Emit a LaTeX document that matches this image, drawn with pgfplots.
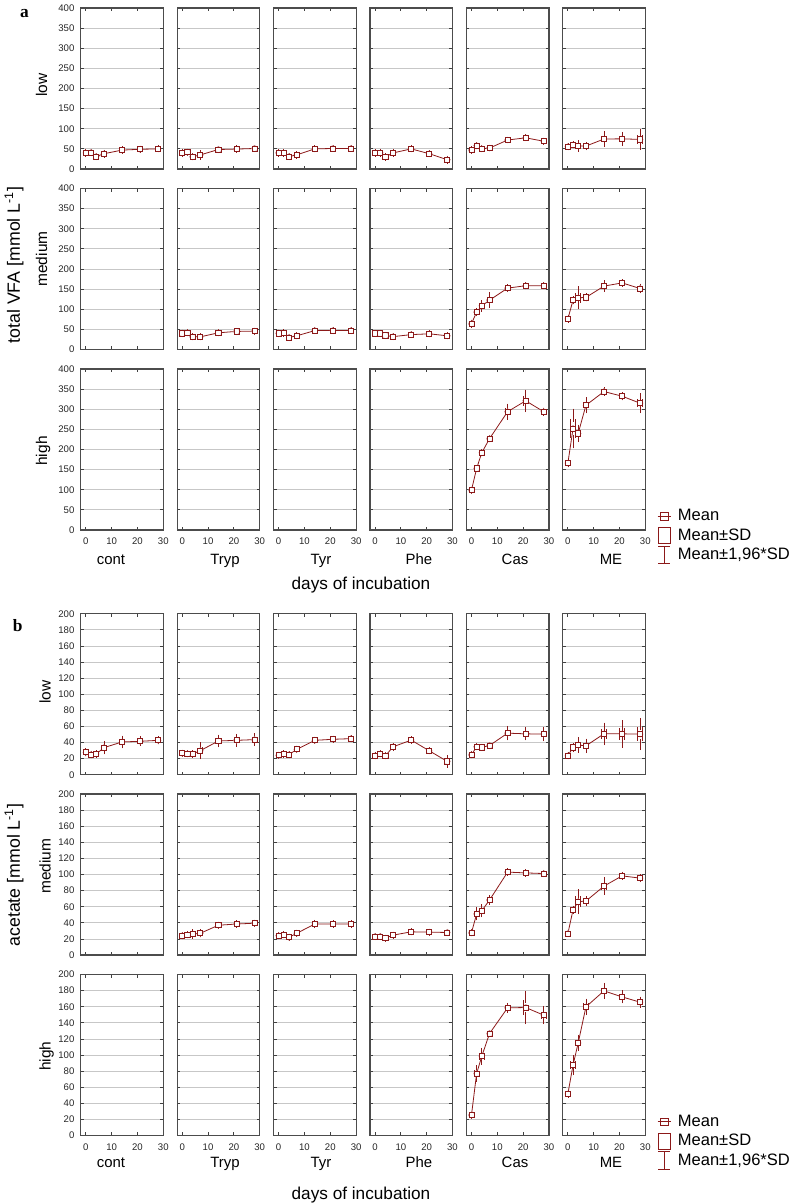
\documentclass[border=0pt]{standalone}
\usepackage{pgfplots}
\usepackage{pgfplotstable}
\pgfplotsset{compat=1.18}
\usepackage{fontspec}
\setmainfont{Liberation Sans}
\newfontfamily\serifbf{Liberation Serif}
\definecolor{dred}{RGB}{140,25,25}

% ---------------- data: day, mean, SD ----------------
\pgfplotstableread{
d m s
0 40 3
2 41 2
4 31 2
7 38 2.5
14 47 2
21 49 2
28 50 1.5
}\aLowCont
\pgfplotstableread{
d m s
0 40 3
2 41.5 2
4 30.5 2
7 35 4
14 48.5 2
21 49.5 2.5
28 51 2
}\aLowTryp
\pgfplotstableread{
d m s
0 40 2
2 40 2
4 31 2
7 35 2
14 50 1.5
21 51 1.5
28 51 1.5
}\aLowTyr
\pgfplotstableread{
d m s
0 40 2.5
2 40 2
4 30 2.5
7 40 2
14 50 1.5
21 38 1.5
28 23 2.5
}\aLowPhe
\pgfplotstableread{
d m s
0 47 2
2 58 2
4 50.5 2
7 52 1.5
14 72 1.5
21 77.5 1.5
28 69 2
}\aLowCas
\pgfplotstableread{
d m s
0 55.5 2
2 60 2
4 57 5
7 57 3
14 74.5 7.5
21 75 6.5
28 73.5 11
}\aLowME
\pgfplotstableread{
d m s
0 40 2.5
2 41.5 2
4 31.5 2
7 31.5 2
14 41.5 2
21 45 2
28 45.5 2
}\aMedTryp
\pgfplotstableread{
d m s
0 40 2.5
2 41 2
4 30 2
7 34 2
14 47 2
21 47 2
28 47 2
}\aMedTyr
\pgfplotstableread{
d m s
0 40 2
2 40 2
4 35 2
7 32 2
14 37 2
21 39 2
28 34 2
}\aMedPhe
\pgfplotstableread{
d m s
0 64 3
2 93 3
4 108.5 5
7 122.5 8
14 152.5 2.5
21 158.5 2
28 158.5 2
}\aMedCas
\pgfplotstableread{
d m s
0 76 2.5
2 122.5 3
4 128.5 12.5
7 129.5 3
14 157.5 5
21 165.5 2
28 151.5 4
}\aMedME
\pgfplotstableread{
d m s
0 99 2
2 153 2
4 192 2
7 227 2
14 294 8
21 321 12
28 294 3
}\aHighCas
\pgfplotstableread{
d m s
0 166 3
2 252 23
4 240 9
7 310 8
14 344 3
21 332.5 3
28 315 10.5
}\aHighME
\pgfplotstableread{
d m s
0 27.8 1.5
2 25 1.2
4 25.7 1.2
7 33.6 3.2
14 40.7 2.9
21 41.5 2
28 42.7 1.5
}\bLowCont
\pgfplotstableread{
d m s
0 26.6 1
2 26.1 1
4 25.7 1
7 29.9 4.2
14 41.9 3
21 42.7 3
28 43.6 3
}\bLowTryp
\pgfplotstableread{
d m s
0 24.1 1
2 25.7 1
4 24.9 1
7 31.5 1.2
14 42.7 1
21 44 1
28 44.8 1
}\bLowTyr
\pgfplotstableread{
d m s
0 23.5 1
2 26 1
4 23.5 1
7 34.7 1.2
14 43 1
21 29.7 1
28 16.5 2.75
}\bLowPhe
\pgfplotstableread{
d m s
0 24.8 1
2 34.7 1
4 33.9 1
7 36.3 1
14 51.6 3.5
21 50.8 3
28 50.4 3.5
}\bLowCas
\pgfplotstableread{
d m s
0 23.5 1
2 33.9 1.5
4 36.8 3.9
7 35.9 3.5
14 50.8 6
21 50.8 7.6
28 50.4 9
}\bLowME
\pgfplotstableread{
d m s
0 24 1
2 25 1
4 26 2
7 27 1.5
14 37 1
21 38.5 1
28 39.5 1
}\bMedTryp
\pgfplotstableread{
d m s
0 24 1
2 25 1
4 22 1
7 27 1
14 38.5 1.5
21 38.5 1
28 38.5 1
}\bMedTyr
\pgfplotstableread{
d m s
0 23 1
2 23 1
4 21 1
7 24.7 1
14 28.8 1
21 28.4 1
28 28 1
}\bMedPhe
\pgfplotstableread{
d m s
0 27.6 1
2 51 3
4 55 3
7 68.3 2
14 103 1
21 102 1
28 101.2 1
}\bMedCas
\pgfplotstableread{
d m s
0 26.7 1
2 56 1.5
4 66.3 6.8
7 67 2
14 85.6 4.4
21 98.3 1.5
28 95.5 1.5
}\bMedME
\pgfplotstableread{
d m s
0 25.3 1
2 77 4.2
4 98.5 4.2
7 126.7 1
14 158.6 2
21 159 9.5
28 149.5 4.5
}\bHighCas
\pgfplotstableread{
d m s
0 51.7 1.5
2 87.4 5.2
4 115 4
7 159.8 4.2
14 179.7 4
21 172.2 3
28 165.6 2.5
}\bHighME

\pgfplotsset{
 cell/.style={scale only axis, width=61.95pt, height=120.75pt, anchor=south west,
   xmin=-2, xmax=30, xtick={0,10,20,30}, ymin=0,
   tick align=inside, major tick length=2.3pt,
   every tick/.style={black!75, line width=0.6pt},
   axis line style={black!70, line width=0.9pt},
   ymajorgrids, major grid style={black!22, line width=0.6pt},
   tick label style={font=\fontsize{7.2}{8}\selectfont, text=black!85},
   /pgf/number format/assume math mode=true,
   yticklabel style={xshift=-1.2pt},
   xticklabel style={yshift=-2.5pt}},
 pa/.style={ymax=400, ytick={0,50,...,400}},
 pb/.style={ymax=200, ytick={0,20,...,200}},
 noxl/.style={xticklabel=\empty},
 noyl/.style={yticklabel=\empty},
 legsty/.style={legend style={draw=none, fill=none, at={(1.14,0.145)}, anchor=north west,
     font=\fontsize{12.4}{14}\selectfont, row sep=0.4pt, inner sep=0pt},
   legend cell align=left},
}

\newcommand{\series}[1]{%
\addplot[forget plot, color=dred, only marks, mark=none, error bars/.cd, y dir=both, y explicit,
  error bar style={color=dred, line width=0.55pt},
  error mark options={color=dred, mark size=1.3pt, line width=0.55pt}]
  table[x=d, y=m, y error expr=1.96*\thisrow{s}] {#1};
\addplot[forget plot, color=dred, only marks, mark=none, error bars/.cd, y dir=both, y explicit,
  error bar style={color=dred, line width=4.2pt}, error mark=none]
  table[x=d, y=m, y error=s] {#1};
\addplot[forget plot, color=white, only marks, mark=none, error bars/.cd, y dir=both, y explicit,
  error bar style={color=white, line width=3.1pt},
  error mark options={color=dred, mark size=2.1pt, line width=0.55pt}]
  table[x=d, y=m, y error=s] {#1};
\addplot[forget plot, color=dred, line width=0.6pt, mark=square, mark size=1.9pt,
  mark options={solid, color=dred, fill=none}] table[x=d, y=m] {#1};
}
\newcommand{\legimgs}{%
 \addlegendimage{legend image code/.code={\draw[dred,line width=0.7pt] (0pt,0pt)--(10pt,0pt); \draw[dred,line width=0.7pt] (2.2pt,-2.8pt) rectangle (7.8pt,2.8pt); \path (13pt,0pt);}}
 \addlegendentry{Mean}
 \addlegendimage{legend image code/.code={\draw[dred,line width=0.7pt] (0.5pt,-6pt) rectangle (9.5pt,6pt); \path (13pt,0pt);}}
 \addlegendentry{Mean±SD}
 \addlegendimage{legend image code/.code={\draw[dred,line width=0.7pt] (5pt,-6.5pt)--(5pt,6.5pt); \draw[dred,line width=0.7pt] (0.5pt,-6.5pt)--(9.5pt,-6.5pt); \draw[dred,line width=0.7pt] (0.5pt,6.5pt)--(9.5pt,6.5pt); \path (13pt,0pt);}}
 \addlegendentry{Mean±1,96*SD}}
\newcommand{\cell}[4]{\begin{axis}[cell, at={({#1*0.75pt},{-#2*0.75pt})}, #3]#4\end{axis}}

\begin{document}
\begin{tikzpicture}[x=0.75pt,y=-0.75pt]
\useasboundingbox (0,0) rectangle (797,1204);

% ================= panel a =================
\cell{80.7}{169}{pa,noxl}{\series{\aLowCont}}
\cell{177.1}{169}{pa,noxl,noyl}{\series{\aLowTryp}}
\cell{273.5}{169}{pa,noxl,noyl}{\series{\aLowTyr}}
\cell{369.9}{169}{pa,noxl,noyl}{\series{\aLowPhe}}
\cell{466.3}{169}{pa,noxl,noyl}{\series{\aLowCas}}
\cell{562.7}{169}{pa,noxl,noyl}{\series{\aLowME}}

\cell{80.7}{349.5}{pa,noxl}{}
\cell{177.1}{349.5}{pa,noxl,noyl}{\series{\aMedTryp}}
\cell{273.5}{349.5}{pa,noxl,noyl}{\series{\aMedTyr}}
\cell{369.9}{349.5}{pa,noxl,noyl}{\series{\aMedPhe}}
\cell{466.3}{349.5}{pa,noxl,noyl}{\series{\aMedCas}}
\cell{562.7}{349.5}{pa,noxl,noyl}{\series{\aMedME}}

\cell{80.7}{530}{pa}{}
\cell{177.1}{530}{pa,noyl}{}
\cell{273.5}{530}{pa,noyl}{}
\cell{369.9}{530}{pa,noyl}{}
\cell{466.3}{530}{pa,noyl}{\series{\aHighCas}}
\cell{562.7}{530}{pa,noyl,legsty}{\series{\aHighME}\legimgs}

% ================= panel b =================
\cell{80.7}{774.7}{pb,noxl}{\series{\bLowCont}}
\cell{177.1}{774.7}{pb,noxl,noyl}{\series{\bLowTryp}}
\cell{273.5}{774.7}{pb,noxl,noyl}{\series{\bLowTyr}}
\cell{369.9}{774.7}{pb,noxl,noyl}{\series{\bLowPhe}}
\cell{466.3}{774.7}{pb,noxl,noyl}{\series{\bLowCas}}
\cell{562.7}{774.7}{pb,noxl,noyl}{\series{\bLowME}}

\cell{80.7}{955}{pb,noxl}{}
\cell{177.1}{955}{pb,noxl,noyl}{\series{\bMedTryp}}
\cell{273.5}{955}{pb,noxl,noyl}{\series{\bMedTyr}}
\cell{369.9}{955}{pb,noxl,noyl}{\series{\bMedPhe}}
\cell{466.3}{955}{pb,noxl,noyl}{\series{\bMedCas}}
\cell{562.7}{955}{pb,noxl,noyl}{\series{\bMedME}}

\cell{80.7}{1135.5}{pb}{}
\cell{177.1}{1135.5}{pb,noyl}{}
\cell{273.5}{1135.5}{pb,noyl}{}
\cell{369.9}{1135.5}{pb,noyl}{}
\cell{466.3}{1135.5}{pb,noyl}{\series{\bHighCas}}
\cell{562.7}{1135.5}{pb,noyl,legsty}{\series{\bHighME}\legimgs}

% ================= texts =================
\node[font=\serifbf\bfseries\fontsize{13}{13}\selectfont] at (24.5,13.5) {a};
\node[font=\serifbf\bfseries\fontsize{13}{13}\selectfont] at (17.7,626) {b};

\begin{scope}[every node/.style={font=\fontsize{11.6}{12}\selectfont, rotate=90, anchor=base}]
\node at (47,85) {low};
\node at (47,259) {medium};
\node at (47,451) {high};
\node at (50.5,692) {low};
\node at (50.5,866) {medium};
\node at (50.5,1056) {high};
\end{scope}
\node[font=\fontsize{13.3}{14}\selectfont, rotate=90, anchor=base] at (20,265) {total VFA [mmol L\textsuperscript{-1}]};
\node[font=\fontsize{13.3}{14}\selectfont, rotate=90, anchor=base] at (20,875) {acetate [mmol L\textsuperscript{-1}]};

\begin{scope}[every node/.style={font=\fontsize{11.2}{12}\selectfont, anchor=base}]
\node at (111,564) {cont};
\node at (225,564) {Tryp};
\node at (321,564) {Tyr};
\node at (419,564) {Phe};
\node at (515,564) {Cas};
\node at (611,564) {ME};
\node at (111,1167.5) {cont};
\node at (225,1167.5) {Tryp};
\node at (321,1167.5) {Tyr};
\node at (419,1167.5) {Phe};
\node at (515,1167.5) {Cas};
\node at (611,1167.5) {ME};
\end{scope}
\node[font=\fontsize{12.9}{13}\selectfont, anchor=base] at (361,589) {days of incubation};
\node[font=\fontsize{12.9}{13}\selectfont, anchor=base] at (361,1199) {days of incubation};
\end{tikzpicture}
\end{document}
